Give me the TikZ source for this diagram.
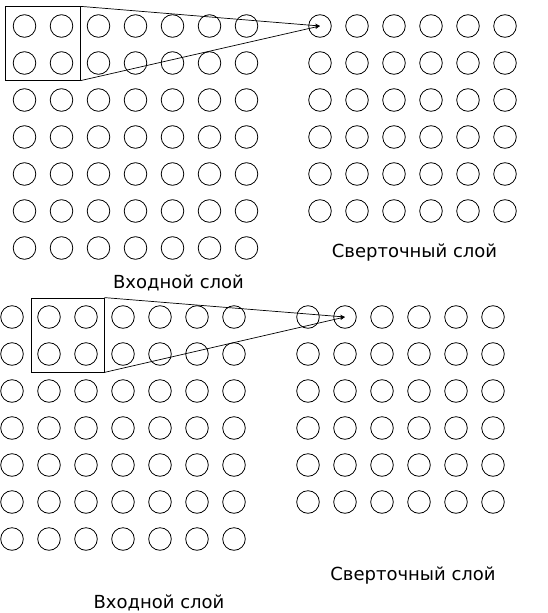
\documentclass[tikz,border=0pt]{standalone}
\usepackage{fontspec}
\setmainfont{DejaVu Sans}
\usetikzlibrary{arrows.meta}
\begin{document}
\begin{tikzpicture}[x=1pt,y=-1pt,
  neuron/.style={circle,draw,line width=0.8pt,minimum size=22.6pt,inner sep=0pt},
  window/.style={draw,line width=0.8pt,inner sep=0pt},
  link/.style={line width=0.7pt,-{Stealth[length=5pt,width=4pt]}},
  lbl/.style={anchor=base,font=\fontsize{18}{20}\selectfont,inner sep=0pt}]
\useasboundingbox (0,0) rectangle (548,613);
% top input grid 7x7
\foreach \i in {0,...,6}{
  \foreach \j in {0,...,6}{
    \node[neuron] (ta-\i-\j) at ({24.5+37*\i},{26+37*\j}) {};
  }
}
% top conv grid 6x6
\foreach \i in {0,...,5}{
  \foreach \j in {0,...,5}{
    \node[neuron] (tb-\i-\j) at ({320+37*\i},{26+37*\j}) {};
  }
}
% bottom input grid 7x7
\foreach \i in {0,...,6}{
  \foreach \j in {0,...,6}{
    \node[neuron] (ba-\i-\j) at ({12+37*\i},{317+37*\j}) {};
  }
}
% bottom conv grid 6x6
\foreach \i in {0,...,5}{
  \foreach \j in {0,...,5}{
    \node[neuron] (bb-\i-\j) at ({308+37*\i},{317+37*\j}) {};
  }
}
% windows
\node[window,minimum width=75pt,minimum height=73.5pt] (tw) at (42.5,43.5) {};
\node[window,minimum width=73pt,minimum height=74pt] (bw) at (67.5,335) {};
% connectors
\draw[link] (tw.north east) -- (tb-0-0.center);
\draw[link] (tw.south east) -- (tb-0-0.center);
\draw[link] (bw.north east) -- (bb-1-0.center);
\draw[link] (bw.south east) -- (bb-1-0.center);
% labels
\node[lbl] (tconv) at (414.5,257) {Сверточный слой};
\node[lbl] (tin) at (178.5,288) {Входной слой};
\node[lbl] (bconv) at (413,580) {Сверточный слой};
\node[lbl] (bin) at (159,608) {Входной слой};
\end{tikzpicture}
\end{document}
